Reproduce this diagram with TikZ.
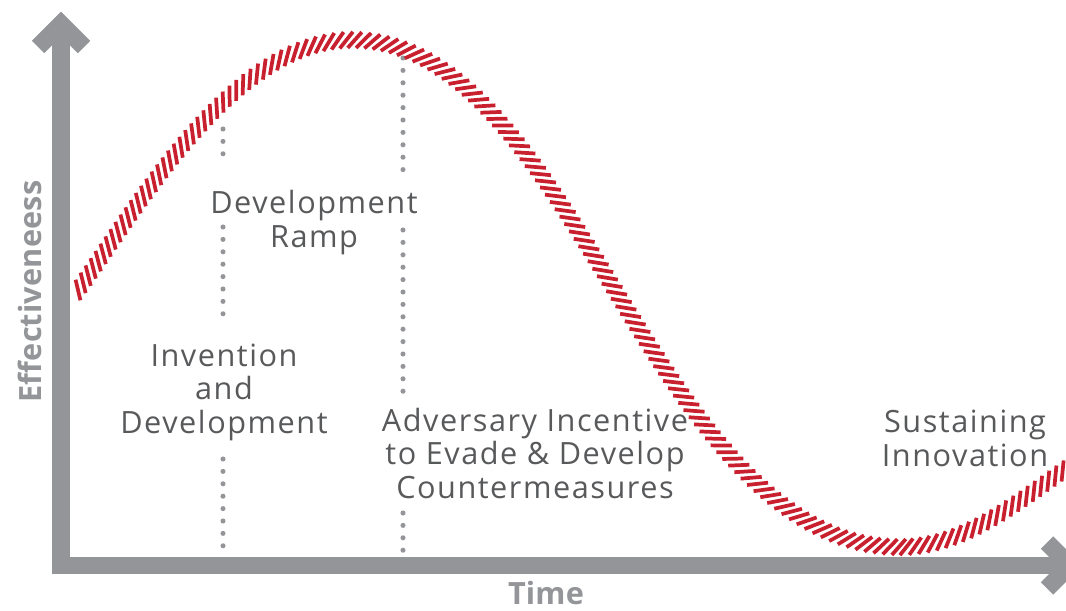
\documentclass[tikz,border=0pt]{standalone}
\usepackage{fontspec}
\setmainfont{Open Sans}[LetterSpace=5]
\usetikzlibrary{decorations.markings}
\definecolor{axisGray}{RGB}{147,149,152}
\definecolor{textGray}{RGB}{88,89,91}
\definecolor{ropeRed}{RGB}{200,32,46}

\begin{document}
\begin{tikzpicture}[x=0.75pt,y=-0.75pt,%%
  axisStyle/.style={-,line width=13.1pt,draw=axisGray,line join=miter,line cap=butt},%%
  dotStyle/.style={-,line width=3.8pt,draw=axisGray,line cap=round,dash pattern=on 0pt off 9.3pt},%%
  labelStyle/.style={text=textGray,align=center,anchor=base,inner sep=0pt,font=\fontsize{23}{25.1}\selectfont},%%
  axisLabelStyle/.style={text=axisGray,anchor=base,inner sep=0pt,%%
    font=\fontsize{23}{25.1}\selectfont\bfseries\addfontfeature{LetterSpace=0.5}},%%
  hatchStyle/.style={-,line width=2.8pt,draw=ropeRed,line cap=butt}%%
]
%%
\useasboundingbox (0,0) rectangle (1066,610);
%%
\pgfmathsetmacro{\xaxis}{61}     %% x of the vertical axis
\pgfmathsetmacro{\yaxis}{565.5}  %% y of the horizontal axis
\pgfmathsetmacro{\ytop}{24}      %% top of the vertical axis
\pgfmathsetmacro{\xend}{1070}    %% right end of the horizontal axis
\pgfmathsetmacro{\wing}{23}      %% half width of an arrow head
\pgfmathsetmacro{\xone}{223}     %% first dotted line
\pgfmathsetmacro{\xtwo}{403}     %% second dotted line
%%
%% Coordinates for the axes.
\coordinate (origin) at (\xaxis,\yaxis);
\coordinate (ytip) at (\xaxis,\ytop);
\coordinate (xtip) at (\xend,\yaxis);
%% Coordinates for the curve.
\coordinate (ropeStart) at (78,290);
\coordinate (ropePeak) at (352,40);
\coordinate (ropeLow) at (900,547);
\coordinate (ropeEnd) at (1064,470);
%%
%% Draw the axes.
\draw[axisStyle] (ytip) -- (origin) -- (xtip);
\draw[axisStyle] (ytip) ++(-\wing,\wing) -- (ytip) -- ++(\wing,\wing);
\draw[axisStyle] (xtip) ++(-\wing,-\wing) -- (xtip) -- ++(-\wing,\wing);
%%
%% Draw the dotted lines.
\draw[dotStyle] (\xone,129) -- (\xone,166);
\draw[dotStyle] (\xone,227) -- (\xone,325);
\draw[dotStyle] (\xone,459) -- (\xone,548);
\draw[dotStyle] (\xtwo,58) -- (\xtwo,170);
\draw[dotStyle] (\xtwo,230) -- (\xtwo,400);
\draw[dotStyle] (\xtwo,513) -- (\xtwo,551);
%%
%% Draw the hatched curve.
\path[decorate,decoration={markings,%%
  mark=between positions 0 and 1 step 6.6pt with {\draw[hatchStyle] (-5.2pt,-6pt) -- (5.2pt,6pt);}}]
  (ropeStart) .. controls (138,207) and (232,40) .. (ropePeak)
  .. controls (576,40) and (652,547) .. (ropeLow)
  .. controls (960,547) and (1010,508) .. (ropeEnd);
%%
%% Label the phases (the base anchor sits on the last line).
\node[labelStyle] (rampLabel) at (314,247) {Development\\Ramp};
\node[labelStyle] (inventionLabel) at (224,433) {Invention\\and\\Development};
\node[labelStyle] (adversaryLabel) at (535,498) {Adversary Incentive\\to Evade \& Develop\\Countermeasures};
\node[labelStyle] (sustainLabel) at (965,466) {Sustaining\\Innovation};
%%
%% Label the axes.
\node[axisLabelStyle] (timeLabel) at (546,604) {Time};
\node[axisLabelStyle,rotate=90] (effLabel) at (41.7,291.5) {Effectiveneess};
\end{tikzpicture}
\end{document}
